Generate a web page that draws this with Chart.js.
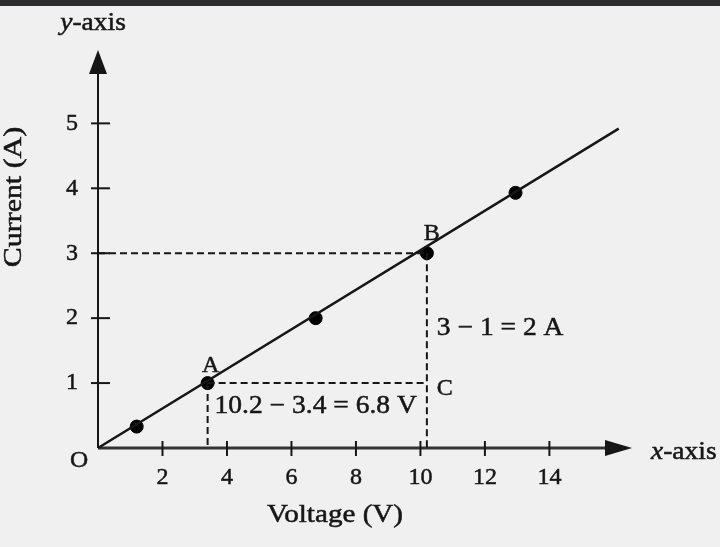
<!DOCTYPE html>
<html>
<head>
<meta charset="utf-8">
<script src="https://cdn.jsdelivr.net/npm/chart.js@4.4.0/dist/chart.umd.min.js"></script>
<style>
  html, body { margin: 0; padding: 0; background: #f0f0f0; }
  #wrap { width: 720px; height: 547px; }
</style>
</head>
<body>
<div id="wrap"><canvas id="chart" width="720" height="547"></canvas></div>
<script>
// measured points (voltage V, current A)
const voltage = [1.2, 3.4, 6.75, 10.2, 12.95];
const current = [0.33, 1.0, 2.0, 3.0, 3.93];
// best fit line end points
const fitVoltage = [0, 16.15];
const fitCurrent = [0, 4.92];
// construction points A, B, C
const pointA = [3.4, 1];
const pointB = [10.2, 3];
const pointC = [10.2, 1];
const xTicks = [2, 4, 6, 8, 10, 12, 14];
const yTicks = [1, 2, 3, 4, 5];
const deltaV = '10.2 \u2212 3.4 = 6.8 V';
const deltaI = '3 \u2212 1 = 2 A';

const SERIF = '"Liberation Serif", "DejaVu Serif", serif';
const INK = '#161616';

const pts = (xs, ys) => xs.map((x, i) => ({ x: x, y: ys[i] }));
const dashed = (data) => ({
  type: 'line', data: data, borderColor: INK, borderWidth: 2, borderDash: [7, 4],
  pointRadius: 0, fill: false, clip: false
});

// text drawn slightly widened, like the scanned figure
function wideText(c, s, x, y, opts) {
  const o = Object.assign({ size: 25, sx: 1.1, align: 'left', italic: false, rotate: 0 }, opts);
  c.save();
  c.translate(x, y);
  if (o.rotate) c.rotate(o.rotate);
  c.scale(o.sx, 1);
  c.font = (o.italic ? 'italic ' : '') + o.size + 'px ' + SERIF;
  c.textAlign = o.align;
  c.fillText(s, 0, 0);
  c.strokeText(s, 0, 0);
  c.restore();
}

const axesPlugin = {
  id: 'axesPlugin',
  beforeDraw(chart) {
    const c = chart.ctx;
    c.save();
    c.fillStyle = '#f0f0f0';
    c.fillRect(0, 0, chart.width, chart.height);
    c.fillStyle = '#2c2c2f';
    c.fillRect(0, 0, chart.width, 6);
    c.restore();
  },
  beforeDatasetsDraw(chart) {
    const c = chart.ctx, xs = chart.scales.x, ys = chart.scales.y;
    const x0 = xs.getPixelForValue(0), y0 = ys.getPixelForValue(0);
    c.save();
    // y axis
    c.strokeStyle = INK; c.lineWidth = 2;
    c.beginPath(); c.moveTo(x0, y0); c.lineTo(x0, 66); c.stroke();
    c.fillStyle = INK;
    c.beginPath(); c.moveTo(x0, 50); c.lineTo(x0 - 9, 74); c.lineTo(x0 + 9, 74); c.closePath(); c.fill();
    // x axis
    c.strokeStyle = '#333'; c.lineWidth = 3;
    c.beginPath(); c.moveTo(x0, y0); c.lineTo(612, y0); c.stroke();
    c.beginPath(); c.moveTo(632, y0); c.lineTo(605, y0 - 8); c.lineTo(605, y0 + 8); c.closePath(); c.fill();
    // tick marks crossing the axes
    c.strokeStyle = INK; c.lineWidth = 2;
    xTicks.forEach(v => {
      const p = xs.getPixelForValue(v);
      c.beginPath(); c.moveTo(p, y0 - 7); c.lineTo(p, y0 + 8); c.stroke();
    });
    yTicks.forEach(v => {
      const p = ys.getPixelForValue(v);
      c.beginPath(); c.moveTo(x0 - 7, p); c.lineTo(x0 + 12, p); c.stroke();
    });
    c.restore();
  },
  afterDraw(chart) {
    const c = chart.ctx, xs = chart.scales.x, ys = chart.scales.y;
    const px = v => xs.getPixelForValue(v), py = v => ys.getPixelForValue(v);
    c.save();
    c.fillStyle = INK;
    c.strokeStyle = INK;
    c.lineWidth = 0.5;
    c.textBaseline = 'alphabetic';

    // axis names: italic letter + "-axis"
    c.font = 'italic 25px ' + SERIF;
    const wy = c.measureText('y').width * 1.1;
    c.font = '25px ' + SERIF;
    const wRest = c.measureText('-axis').width * 1.1;
    const yLeft = 93 - (wy + wRest) / 2;
    wideText(c, 'y', yLeft, 30, { italic: true });
    wideText(c, '-axis', yLeft + wy, 30, {});
    c.font = 'italic 25px ' + SERIF;
    const wx = c.measureText('x').width * 1.1;
    wideText(c, 'x', 651, 459, { italic: true });
    wideText(c, '-axis', 651 + wx, 459, {});

    // origin
    wideText(c, 'O', 79, 467, { size: 24, sx: 1.05, align: 'center' });

    // axis titles
    wideText(c, 'Voltage (V)', 335, 522, { size: 26, sx: 1.12, align: 'center' });
    c.textBaseline = 'middle';
    wideText(c, 'Current (A)', 14, 197, { size: 26, sx: 1.15, align: 'center', rotate: -Math.PI / 2 });
    c.textBaseline = 'alphabetic';

    // point names
    wideText(c, 'A', px(pointA[0]) + 3, py(pointA[1]) - 11, { size: 24, sx: 1, align: 'center' });
    wideText(c, 'B', px(pointB[0]) + 5, py(pointB[1]) - 13, { size: 24, sx: 1, align: 'center' });
    wideText(c, 'C', px(pointC[0]) + 10, py(pointC[1]) + 12, { size: 24, sx: 1 });

    // differences
    wideText(c, deltaV, px(pointA[0]) + 7, py(pointA[1]) + 30, {});
    wideText(c, deltaI, px(pointB[0]) + 10, py(2) + 17, {});
    c.restore();
  }
};

new Chart(document.getElementById('chart'), {
  type: 'scatter',
  data: {
    datasets: [
      { type: 'line', data: pts(fitVoltage, fitCurrent), borderColor: INK, borderWidth: 2.5,
        pointRadius: 0, fill: false, clip: false },
      dashed([{ x: 0, y: pointB[1] }, { x: pointB[0], y: pointB[1] }]),
      dashed([{ x: pointB[0], y: pointB[1] }, { x: pointB[0], y: 0 }]),
      dashed([{ x: pointA[0], y: pointA[1] }, { x: pointC[0], y: pointC[1] }]),
      dashed([{ x: pointA[0], y: pointA[1] }, { x: pointA[0], y: 0 }]),
      { type: 'scatter', data: pts(voltage, current), backgroundColor: '#000', borderColor: '#000',
        pointRadius: 6.5, pointHoverRadius: 6.5, clip: false }
    ]
  },
  options: {
    responsive: false,
    animation: false,
    layout: { padding: { top: 50, right: 90, left: 0, bottom: 0 } },
    plugins: { legend: { display: false }, tooltip: { enabled: false } },
    scales: {
      x: {
        type: 'linear', min: 0, max: 16.5,
        grid: { display: false, drawTicks: false },
        border: { display: false },
        afterBuildTicks: s => { s.ticks = xTicks.map(v => ({ value: v })); },
        afterFit: s => { s.height = 99; },
        ticks: { autoSkip: false, maxRotation: 0, padding: 15, color: INK,
                 textStrokeColor: INK, textStrokeWidth: 0.5,
                 font: { family: SERIF, size: 24 } }
      },
      y: {
        type: 'linear', min: 0, max: 6.13,
        grid: { display: false, drawTicks: false },
        border: { display: false },
        afterBuildTicks: s => { s.ticks = yTicks.map(v => ({ value: v })); },
        afterFit: s => { s.width = 98; },
        ticks: { autoSkip: false, padding: 20, color: INK,
                 textStrokeColor: INK, textStrokeWidth: 0.5,
                 font: { family: SERIF, size: 24 } }
      }
    }
  },
  plugins: [axesPlugin]
});
</script>
</body>
</html>
